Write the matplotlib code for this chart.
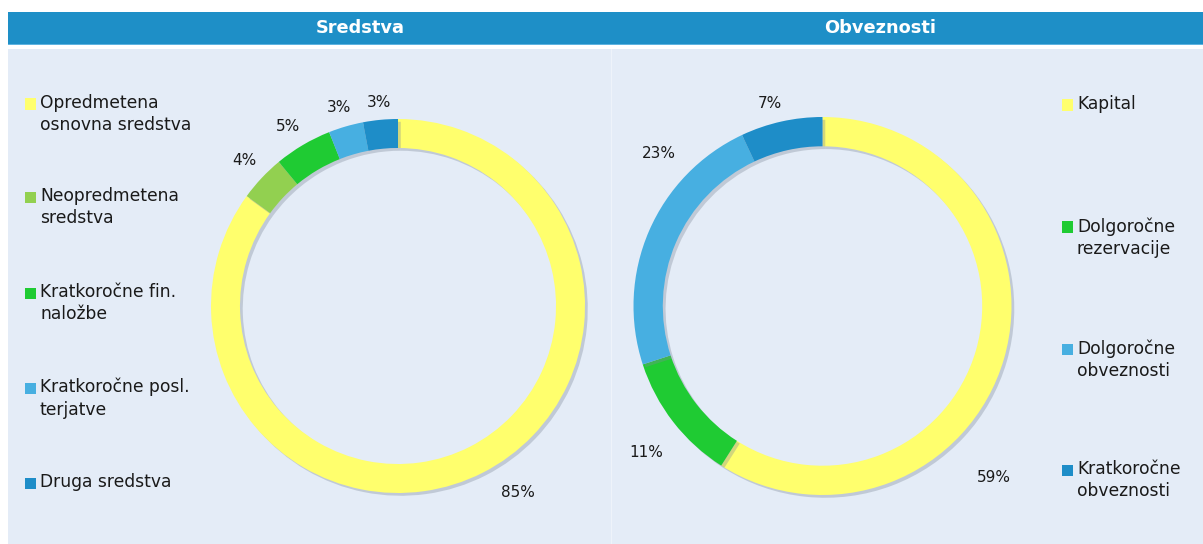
import matplotlib
matplotlib.use("Agg")
import matplotlib.pyplot as plt
from matplotlib.patches import Rectangle
from matplotlib import patheffects as pe

# ---- data ----
assets_labels = ["Opredmetena\nosnovna sredstva", "Neopredmetena\nsredstva",
                 "Kratkoročne fin.\nnaložbe", "Kratkoročne posl.\nterjatve", "Druga sredstva"]
assets_values = [85, 4, 5, 3, 3]
assets_colors = ["#FFFF6D", "#92D050", "#1FCB33", "#47AFE1", "#1E8DC8"]

liab_labels = ["Kapital", "Dolgoročne\nrezervacije", "Dolgoročne\nobveznosti", "Kratkoročne\nobveznosti"]
liab_values = [59, 11, 23, 7]
liab_colors = ["#FFFF6D", "#1FCB33", "#47AFE1", "#1E8DC8"]

titles = ["Sredstva", "Obveznosti"]

# ---- figure ----
W, H = 1203, 544
fig = plt.figure(figsize=(W / 100, H / 100), dpi=100)
fig.patch.set_facecolor("white")

def fx(px):
    return px / W

def fy(py):
    return 1 - py / H

HEADER = "#1E8FC7"
PANEL = "#E4ECF7"

def bg_rect(x0, y0, x1, y1, color):
    fig.patches.append(Rectangle((fx(x0), fy(y1)), fx(x1) - fx(x0), fy(y0) - fy(y1),
                                 transform=fig.transFigure, facecolor=color,
                                 edgecolor="none", zorder=-10))

bg_rect(8, 12, 1203, 44, HEADER)
bg_rect(8, 44, 1203, 45, "#5FB3E0")
bg_rect(8, 49, 1203, 544, PANEL)
bg_rect(611, 49, 612, 544, "#EEF3FA")

fig.text(fx(360), fy(28), titles[0], color="white", fontsize=12.8, fontweight="bold",
         ha="center", va="center")
fig.text(fx(880), fy(28), titles[1], color="white", fontsize=12.8, fontweight="bold",
         ha="center", va="center")

def donut(cx, cy, R, values, colors, label_pos):
    ax = fig.add_axes([fx(cx - R), fy(cy + R), fx(2 * R), (2 * R) / H])
    ax.set_facecolor("none")
    ax.set_zorder(1)
    wedges, _ = ax.pie(values, colors=colors, startangle=90, counterclock=False,
                       radius=1.0, wedgeprops=dict(width=0.155, edgecolor="none"))
    for w in wedges:
        w.set_path_effects([pe.SimplePatchShadow(offset=(2, -2), shadow_rgbFace="#7F8A99", alpha=0.35),
                            pe.Normal()])
    for v, (x, y) in zip(values, label_pos):
        ax.text(x, y, f"{v}%", ha="center", va="center", fontsize=11, color="#1A1A1A")
    ax.set_xlim(-1, 1)
    ax.set_ylim(-1, 1)
    ax.set_aspect("equal")
    ax.axis("off")
    return ax

# label placements (axes data units, relative to ring radius)
assets_lbl_pos = [(0.64, -0.995), (-0.82, 0.78), (-0.59, 0.96), (-0.315, 1.06), (-0.10, 1.09)]
liab_lbl_pos = [(0.908, -0.91), (-0.934, -0.774), (-0.866, 0.805), (-0.28, 1.07)]

donut(398, 306, 187, assets_values, assets_colors, assets_lbl_pos)
donut(822.5, 306, 189, liab_values, liab_colors, liab_lbl_pos)

def legend(x_sq, x_txt, ys, labels, colors):
    for y, lab, c in zip(ys, labels, colors):
        fig.patches.append(Rectangle((fx(x_sq), fy(y + 5.5)), fx(11), 11 / H,
                                     transform=fig.transFigure, facecolor=c, edgecolor="none"))
        fig.text(fx(x_txt), fy(y - 10), lab, fontsize=12.3, color="#1A1A1A",
                 ha="left", va="top", linespacing=1.3)

legend(25, 40, [104, 197, 293, 388, 483], assets_labels, assets_colors)
legend(1062, 1077, [105, 227, 349, 470], liab_labels, liab_colors)

fig.savefig("out.png", dpi=100, facecolor=fig.get_facecolor())
